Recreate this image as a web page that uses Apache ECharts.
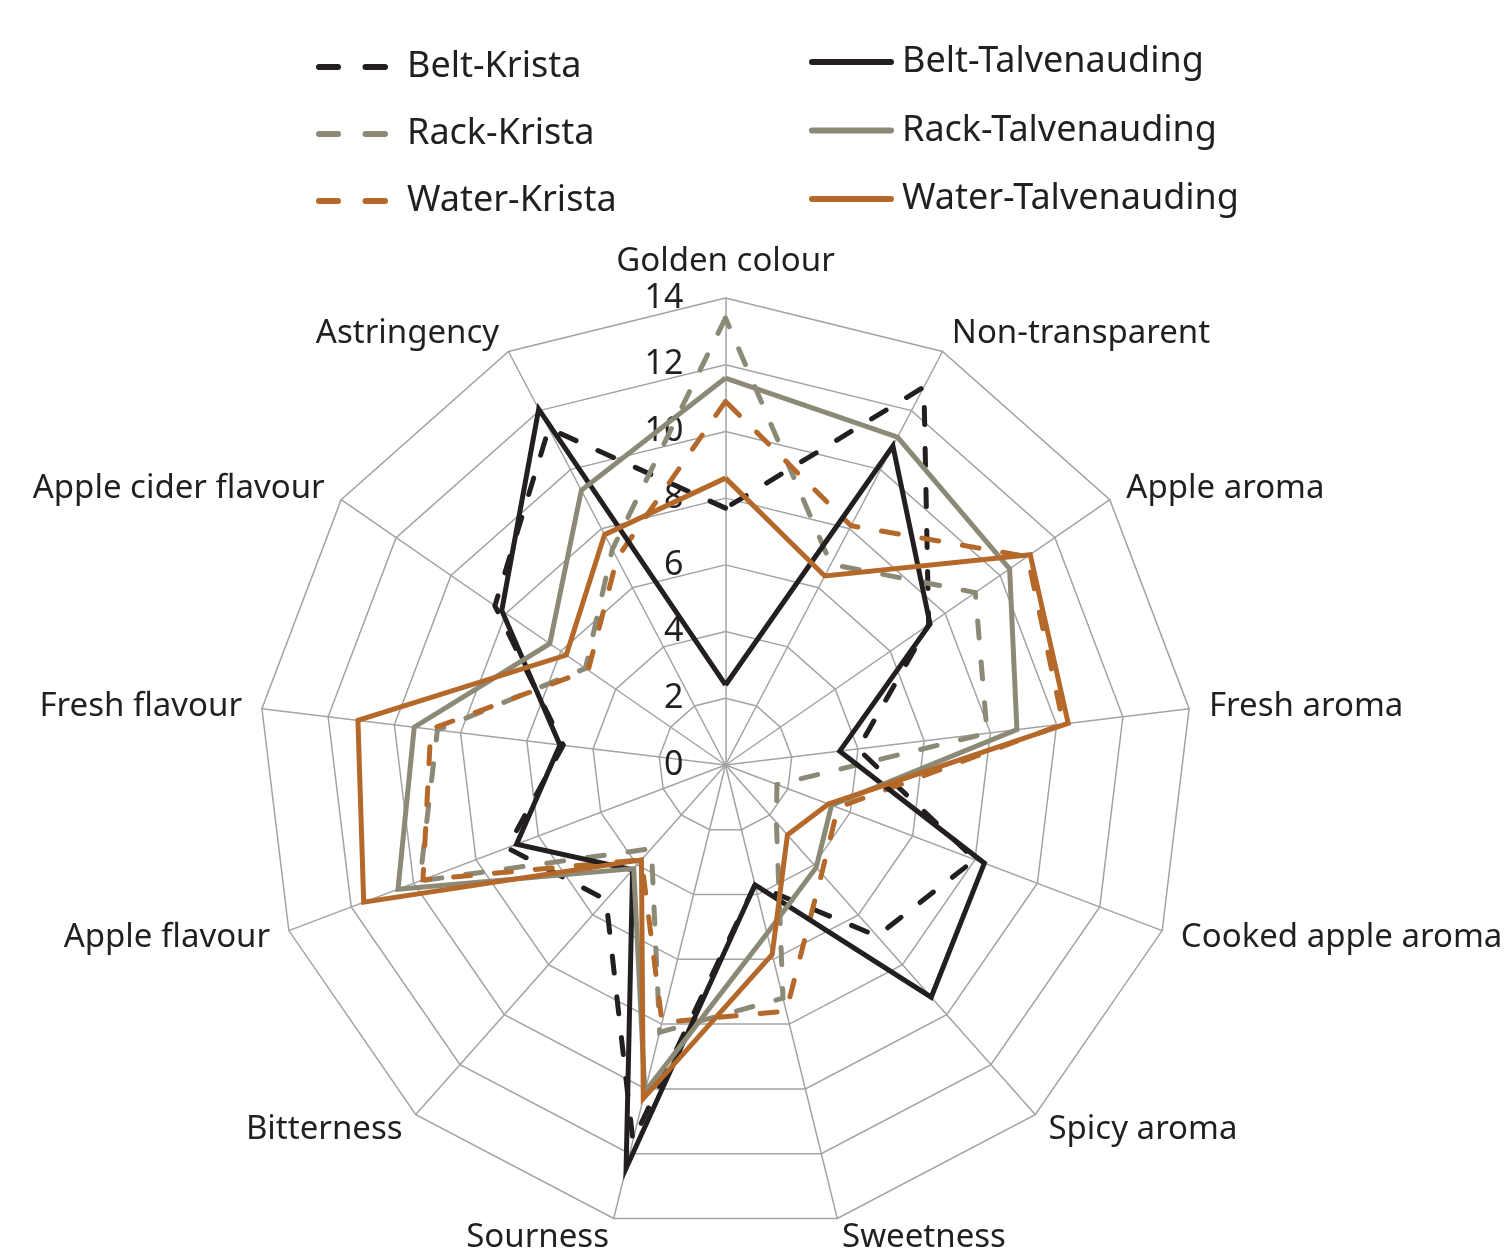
<!DOCTYPE html>
<html>
<head>
<meta charset="utf-8">
<script src="https://cdn.jsdelivr.net/npm/echarts@6/dist/echarts.min.js"></script>
<style>
  html, body { margin: 0; padding: 0; background: #ffffff; }
  #chart { width: 1508px; height: 1248px; }
</style>
</head>
<body>
<div id="chart"></div>
<script>
// Attributes in clockwise order starting from the top
const categories = ['Golden colour', 'Non-transparent', 'Apple aroma', 'Fresh aroma',
  'Cooked apple aroma', 'Spicy aroma', 'Sweetness', 'Sourness', 'Bitterness',
  'Apple flavour', 'Fresh flavour', 'Apple cider flavour', 'Astringency'];

const tickValues = [0, 2, 4, 6, 8, 10, 12, 14];

const beltKrista        = [7.7, 12.8, 7.4, 4.0, 8.0, 6.85, 3.7, 11.6, 5.4, 7.0, 4.9, 8.4, 11.4];
const rackKrista        = [13.4, 6.8, 9.1, 7.9, 1.65, 2.3, 7.2, 8.25, 3.35, 9.8, 8.7, 5.1, 7.3];
const waterKrista       = [10.9, 8.1, 11.0, 10.2, 3.6, 4.35, 7.6, 7.95, 3.8, 9.7, 8.9, 5.0, 7.0];
const beltTalvenauding  = [2.4, 10.8, 7.45, 3.45, 8.3, 9.3, 3.7, 12.45, 4.2, 6.7, 5.0, 8.15, 12.05];
const rackTalvenauding  = [11.6, 11.1, 10.35, 8.8, 3.4, 4.1, 5.2, 10.1, 4.15, 10.5, 9.4, 6.4, 9.3];
const waterTalvenauding = [8.6, 6.4, 11.1, 10.35, 3.3, 2.8, 5.85, 10.3, 3.8, 11.6, 11.1, 5.8, 7.8];

const seriesNames = ['Belt-Krista', 'Rack-Krista', 'Water-Krista',
  'Belt-Talvenauding', 'Rack-Talvenauding', 'Water-Talvenauding'];

const BLACK = '#231f20', GREY = '#8c8a77', ORANGE = '#b4692a';
const TEXT = '#231f20';
const FONT = 'Noto Sans';

// ECharts lays radar indicators out counter-clockwise; reorder so they read clockwise.
const n = categories.length;
const toCCW = arr => arr.map((_, k) => arr[k === 0 ? 0 : n - k]);

const maxVal = tickValues[tickValues.length - 1];
const indicators = toCCW(categories).map((name, k) => {
  const ind = { name: name, min: tickValues[0], max: maxVal };
  if (k === 0) {
    ind.axisLabel = { show: true, fontSize: 34, color: TEXT, fontFamily: FONT, margin: 42 };
  }
  return ind;
});

const dashIcon = 'path://M3,0 H22 A3,3 0 0 1 22,6 H3 A3,3 0 0 1 3,0 Z M49.5,0 H69 A3,3 0 0 1 69,6 H49.5 A3,3 0 0 1 49.5,0 Z';
const solidIcon = 'path://M3,0 H82 A3,3 0 0 1 82,6 H3 A3,3 0 0 1 3,0 Z';

const defs = [
  { name: seriesNames[0], data: beltKrista, color: BLACK, dashed: true },
  { name: seriesNames[1], data: rackKrista, color: GREY, dashed: true },
  { name: seriesNames[2], data: waterKrista, color: ORANGE, dashed: true },
  { name: seriesNames[3], data: beltTalvenauding, color: BLACK, dashed: false },
  { name: seriesNames[4], data: rackTalvenauding, color: GREY, dashed: false },
  { name: seriesNames[5], data: waterTalvenauding, color: ORANGE, dashed: false }
];

const series = defs.map(d => ({
  type: 'radar',
  name: d.name,
  symbol: 'none',
  silent: true,
  itemStyle: { color: d.color },
  lineStyle: {
    color: d.color,
    width: 5,
    type: d.dashed ? [17, 24] : 'solid',
    cap: d.dashed ? 'round' : 'butt',
    join: 'miter',
    miterLimit: 10
  },
  data: [{ name: d.name, value: toCCW(d.data) }]
}));

const legendText = { fontSize: 36, color: TEXT, fontFamily: FONT, lineHeight: 36 };

const chart = echarts.init(document.getElementById('chart'), null, { renderer: 'canvas' });
chart.setOption({
  animation: false,
  backgroundColor: '#ffffff',
  legend: [
    {
      orient: 'vertical', left: 316, top: 49, padding: 0,
      itemWidth: 72, itemHeight: 6, itemGap: 31,
      selectedMode: false,
      itemStyle: { borderWidth: 0 },
      textStyle: Object.assign({ padding: [0, 0, 0, 14] }, legendText),
      data: defs.filter(d => d.dashed).map(d => ({ name: d.name, icon: dashIcon }))
    },
    {
      orient: 'vertical', left: 809, top: 44, padding: 0,
      itemWidth: 85, itemHeight: 6, itemGap: 32.5,
      selectedMode: false,
      itemStyle: { borderWidth: 0 },
      textStyle: Object.assign({ padding: [0, 0, 0, 3] }, legendText),
      data: defs.filter(d => !d.dashed).map(d => ({ name: d.name, icon: solidIcon }))
    }
  ],
  radar: {
    center: [725.5, 765],
    radius: 467,
    startAngle: 90,
    shape: 'polygon',
    splitNumber: tickValues.length - 1,
    nameGap: 20,
    indicator: indicators,
    axisName: { color: TEXT, fontSize: 33, fontFamily: FONT },
    axisLabel: { show: false },
    axisTick: { show: false },
    axisLine: { lineStyle: { color: '#a3a3a3', width: 1.5 } },
    splitLine: { lineStyle: { color: '#a3a3a3', width: 1.5 } },
    splitArea: { show: false }
  },
  series: series
});
</script>
</body>
</html>
